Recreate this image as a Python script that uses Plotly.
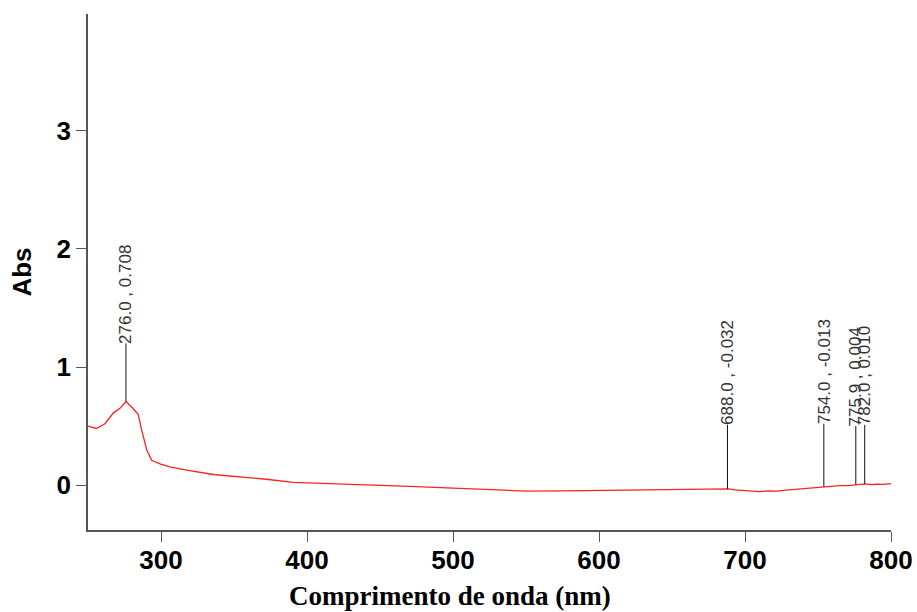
import plotly.graph_objects as go

# Spectrum (wavelength nm, absorbance)
wavelength = [250, 255.7, 261.6, 267.3, 271.9, 276.0, 280.0, 284.4, 286.7, 290.2, 293.6, 299.3, 306, 317.6,
              335.8, 354, 372, 390.6, 413.5, 434, 450, 475, 500, 525, 550, 575, 600, 625, 655.5,
              662, 670, 680, 689, 693, 700, 710, 716, 722, 728, 735, 745, 750, 754.8, 760, 765, 771, 777, 782, 787, 790, 795, 800]
absorbance = [0.50, 0.48, 0.52, 0.61, 0.65, 0.708, 0.66, 0.60, 0.47, 0.30, 0.21, 0.18, 0.155, 0.127,
              0.09, 0.07, 0.05, 0.023, 0.015, 0.003, 0.0, -0.012, -0.025, -0.035, -0.05, -0.048, -0.045, -0.043, -0.042,
              -0.036, -0.04, -0.034, -0.032, -0.04, -0.045, -0.055, -0.048, -0.05, -0.042, -0.034, -0.025, -0.02, -0.013,
              -0.01, -0.005, -0.004, 0.004, 0.010, 0.004, 0.008, 0.006, 0.012]

# Peak picks
peak_x = [276.0, 688.0, 754.0, 775.9, 782.0]
peak_y = [0.708, -0.032, -0.013, 0.004, 0.010]
peak_label_y = [1.20, 0.51, 0.52, 0.50, 0.51]
peak_text = ["276.0 , 0.708", "688.0 , -0.032", "754.0 , -0.013", "775.9 , 0.004", "782.0 , 0.010"]

x_ticks = [300, 400, 500, 600, 700, 800]
y_ticks = [0, 1, 2, 3]

fig = go.Figure()
fig.add_trace(go.Scatter(x=wavelength, y=absorbance, mode="lines",
                         line=dict(color="#ff2020", width=1.3), showlegend=False, hoverinfo="skip"))

for px, py, ly, t in zip(peak_x, peak_y, peak_label_y, peak_text):
    fig.add_shape(type="line", x0=px, x1=px, y0=py, y1=ly, xref="x", yref="y",
                  line=dict(color="#111111", width=1))
    fig.add_annotation(x=px, y=ly, text=t, showarrow=False, textangle=-90,
                       xanchor="center", yanchor="bottom", yshift=-2,
                       font=dict(family="Liberation Sans, Arial", size=17, color="#333333"))

# x-axis title (placed left of plot centre, as in the reference)
fig.add_annotation(x=0.451, y=-0.128, xref="paper", yref="paper", showarrow=False,
                   xanchor="center", yanchor="middle",
                   text="<b>Comprimento de onda (nm)</b>",
                   font=dict(family="Liberation Serif, Times New Roman", size=27, color="black"))

fig.update_layout(
    width=917, height=612,
    margin=dict(l=88, r=26, t=14, b=82),
    paper_bgcolor="white", plot_bgcolor="white",
    xaxis=dict(range=[250, 800], tickvals=x_ticks, showgrid=False, zeroline=False, automargin=False,
               showline=True, linecolor="#555555", linewidth=1.5,
               ticks="outside", ticklen=10, tickcolor="#555555", tickwidth=1.2,
               ticklabelstandoff=-4,
               tickfont=dict(family="Liberation Sans, Arial", size=26, color="black", weight="bold")),
    yaxis=dict(range=[-0.38, 3.99], tickvals=y_ticks, showgrid=False, zeroline=False, automargin=False,
               showline=True, linecolor="#555555", linewidth=1.5,
               ticks="outside", ticklen=10, tickcolor="#555555", tickwidth=1.2,
               tickfont=dict(family="Liberation Sans, Arial", size=26, color="black", weight="bold"),
               title=dict(text="<b>Abs</b>", standoff=17,
                          font=dict(family="Liberation Sans, Arial", size=26, color="black"))),
)

fig.write_html("out.html", config={"displayModeBar": False},
               post_script="document.body.style.margin='0';document.body.style.overflow='hidden';")
